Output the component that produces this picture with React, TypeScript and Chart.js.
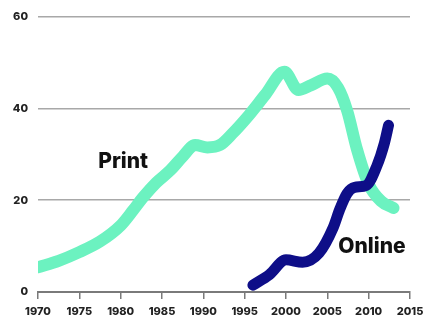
import React, { useEffect, useRef } from "react";
import { Chart, registerables } from "chart.js";

Chart.register(...registerables);

// Print readership share by year
const printYears = [1970, 1972.5, 1975, 1977.5, 1980, 1981.5, 1982.7, 1984.3, 1986, 1987.5, 1989, 1990.5, 1992, 1993.5, 1995.5, 1997.5, 1999.8, 2001.5, 2003, 2005, 2006.3, 2007.4, 2008.6, 2010, 2011.5, 2013];
const printValues = [5.4, 6.8, 8.7, 11, 14.5, 17.8, 20.6, 23.8, 26.5, 29.5, 32, 31.5, 32, 34.5, 38.5, 43, 48, 44, 45, 46.5, 44.5, 39.5, 31, 23.5, 19.8, 18.3];

// Online readership share by year
const onlineYears = [1996, 1998, 2000, 2002, 2004, 2005.7, 2006.5, 2007.4, 2008.3, 2009.7, 2011, 2011.9, 2012.4];
const onlineValues = [1.5, 3.8, 7, 6.5, 8.5, 14, 18, 21.5, 22.8, 23.2, 27.5, 32.4, 36.3];

// Series name labels, anchored in data coordinates
const seriesNames = ["Print", "Online"];
const nameYears = [1980.3, 2010.4];
const nameValues = [28.3, 9.8];

const xTicks = { min: 1970, max: 2015, step: 5 };
const yTicks = { min: 0, max: 60, step: 20 };

const PRINT_COLOR = "#6cf2c0";
const ONLINE_COLOR = "#0e0e88";
const FONT = "Inter";

const toPoints = (xs: number[], ys: number[]) => xs.map((x, i) => ({ x, y: ys[i] }));

const seriesLabels = {
  id: "seriesLabels",
  afterDatasetsDraw(chart: any) {
    const { ctx, scales } = chart;
    ctx.save();
    ctx.fillStyle = "#111";
    ctx.font = `800 21px ${FONT}`;
    ctx.textAlign = "center";
    ctx.textBaseline = "middle";
    seriesNames.forEach((name, i) => {
      ctx.fillText(name, scales.x.getPixelForValue(nameYears[i]), scales.y.getPixelForValue(nameValues[i]));
    });
    ctx.restore();
  },
};

export default function App() {
  const canvasRef = useRef<HTMLCanvasElement | null>(null);

  useEffect(() => {
    const canvas = canvasRef.current;
    if (!canvas) return;
    const chart = new Chart(canvas, {
      type: "line",
      data: {
        datasets: [
          {
            label: "Print",
            data: toPoints(printYears, printValues),
            borderColor: PRINT_COLOR,
            borderWidth: 12,
            cubicInterpolationMode: "monotone",
            borderCapStyle: "round",
            borderJoinStyle: "round",
            pointRadius: 0,
            fill: false,
            order: 2,
          },
          {
            label: "Online",
            data: toPoints(onlineYears, onlineValues),
            borderColor: ONLINE_COLOR,
            borderWidth: 11,
            cubicInterpolationMode: "monotone",
            borderCapStyle: "round",
            borderJoinStyle: "round",
            pointRadius: 0,
            fill: false,
            order: 1,
          },
        ],
      },
      options: {
        responsive: false,
        animation: false,
        layout: { padding: { left: 0, top: 16, right: 14, bottom: 0 } },
        plugins: {
          legend: { display: false },
          tooltip: { enabled: false },
        },
        scales: {
          x: {
            type: "linear",
            min: xTicks.min,
            max: xTicks.max,
            afterFit: (scale: any) => {
              // let the end labels run to the canvas edge
              scale.height = 28;
              scale.paddingLeft = 0;
              scale.paddingRight = 0;
            },
            ticks: {
              stepSize: xTicks.step,
              color: "#222",
              padding: 6,
              maxRotation: 0,
              font: { family: FONT, size: 11, weight: "800" },
              callback: (v: any) => String(v),
            },
            grid: {
              drawOnChartArea: false,
              drawTicks: true,
              tickLength: 7,
              color: "#7a7a7a",
              lineWidth: 1.5,
            },
            border: { display: true, color: "#7a7a7a", width: 2 },
          },
          y: {
            type: "linear",
            min: yTicks.min,
            max: yTicks.max,
            afterFit: (scale: any) => {
              scale.width = 38;
            },
            ticks: {
              stepSize: yTicks.step,
              color: "#222",
              padding: 10,
              font: { family: FONT, size: 11, weight: "800" },
            },
            grid: {
              drawTicks: false,
              color: "#a8a8a8",
              lineWidth: 1.5,
            },
            border: { display: false },
          },
        },
      },
      plugins: [seriesLabels],
    });
    return () => chart.destroy();
  }, []);

  return (
    <div style={{ position: "absolute", left: 0, top: 0, width: 424, height: 320, background: "#fff" }}>
      <canvas ref={canvasRef} width={424} height={320} />
    </div>
  );
}
